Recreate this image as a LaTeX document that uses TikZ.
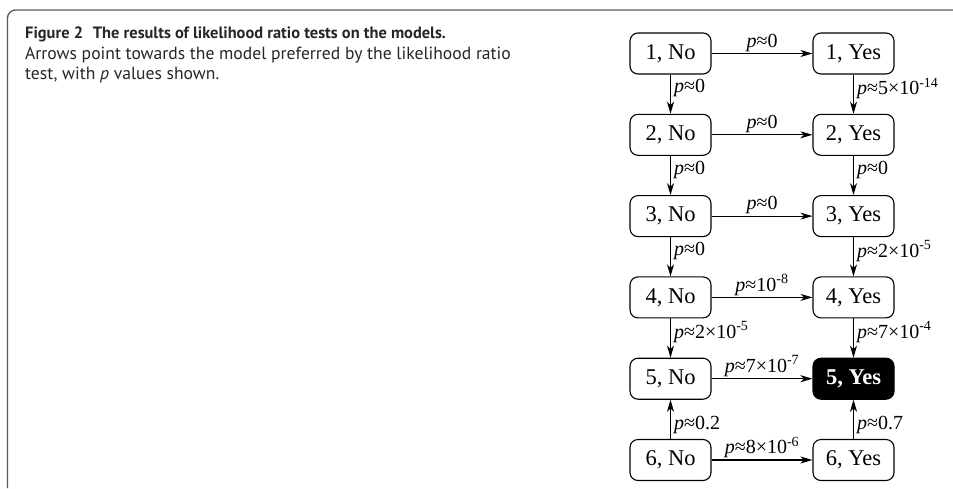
\documentclass[tikz,border=0pt]{standalone}
\usepackage{fontspec}
\setmainfont{Liberation Serif}
\newfontfamily\capfont{PT Sans}
\usetikzlibrary{arrows.meta}
\newcommand\pval[1]{\textit{p}≈#1}
\newcommand\tenp[1]{10\textsuperscript{-#1}}
\begin{document}
\begin{tikzpicture}[x=1pt,y=-1pt,
  box/.style={draw, line width=1.1pt, rounded corners=8pt, minimum width=81pt, minimum height=41pt, inner sep=0pt, font=\fontsize{22.5}{24}\selectfont},
  best/.style={box, fill=black, text=white, font=\fontsize{22.5}{24}\selectfont\bfseries},
  arr/.style={-{Stealth[length=12pt,width=7pt,inset=3.5pt]}, line width=1.1pt},
  lab/.style={font=\fontsize{20}{22}\selectfont, inner sep=1.5pt},
  vlab/.style={lab, pos=0.35, anchor=west, xshift=1.5pt},
  hlab/.style={lab, midway, above},
  captext/.style={anchor=base west, inner sep=0pt, text=black!85, font=\capfont\fontsize{17.6}{19}\selectfont},
]
\useasboundingbox (0,0) rectangle (953,488);
\draw[black!65, line width=1.3pt, rounded corners=8pt] (7.5,488) -- (7.5,10) -- (953,10);

\node[captext, font=\capfont\bfseries\fontsize{16.4}{19}\selectfont] (c1) at (25,38.5) {Figure 2\hspace{0.6em}The results of likelihood ratio tests on the models.};
\node[captext] (c2) at (25,59.3) {Arrows point towards the model preferred by the likelihood ratio};
\node[captext] (c3) at (25,79.5) {test, with \textit{p} values shown.};

\node[box] (L1) at (670.5,53.5) {1, No};
\node[box] (R1) at (853.5,53.5) {1, Yes};
\node[box] (L2) at (670.5,134.8) {2, No};
\node[box] (R2) at (853.5,134.8) {2, Yes};
\node[box] (L3) at (670.5,216.1) {3, No};
\node[box] (R3) at (853.5,216.1) {3, Yes};
\node[box] (L4) at (670.5,297.4) {4, No};
\node[box] (R4) at (853.5,297.4) {4, Yes};
\node[box] (L5) at (670.5,378.7) {5, No};
\node[best] (R5) at (853.5,378.7) {5, Yes};
\node[box] (L6) at (670.5,460) {6, No};
\node[box] (R6) at (853.5,460) {6, Yes};

\draw[arr] (L1) -- node[hlab] {\pval{0}} (R1);
\draw[arr] (L1) -- node[vlab] {\pval{0}} (L2);
\draw[arr] (R1) -- node[vlab] {\pval{5×\tenp{14}}} (R2);
\draw[arr] (L2) -- node[hlab] {\pval{0}} (R2);
\draw[arr] (L2) -- node[vlab] {\pval{0}} (L3);
\draw[arr] (R2) -- node[vlab] {\pval{0}} (R3);
\draw[arr] (L3) -- node[hlab] {\pval{0}} (R3);
\draw[arr] (L3) -- node[vlab] {\pval{0}} (L4);
\draw[arr] (R3) -- node[vlab] {\pval{2×\tenp{5}}} (R4);
\draw[arr] (L4) -- node[hlab] {\pval{\tenp{8}}} (R4);
\draw[arr] (L4) -- node[vlab] {\pval{2×\tenp{5}}} (L5);
\draw[arr] (R4) -- node[vlab] {\pval{7×\tenp{4}}} (R5);
\draw[arr] (L5) -- node[hlab] {\pval{7×\tenp{7}}} (R5);
\draw[arr] (L6) -- node[vlab] {\pval{0.2}} (L5);
\draw[arr] (L6) -- node[hlab] {\pval{8×\tenp{6}}} (R6);
\draw[arr] (R6) -- node[vlab] {\pval{0.7}} (R5);
\end{tikzpicture}
\end{document}
